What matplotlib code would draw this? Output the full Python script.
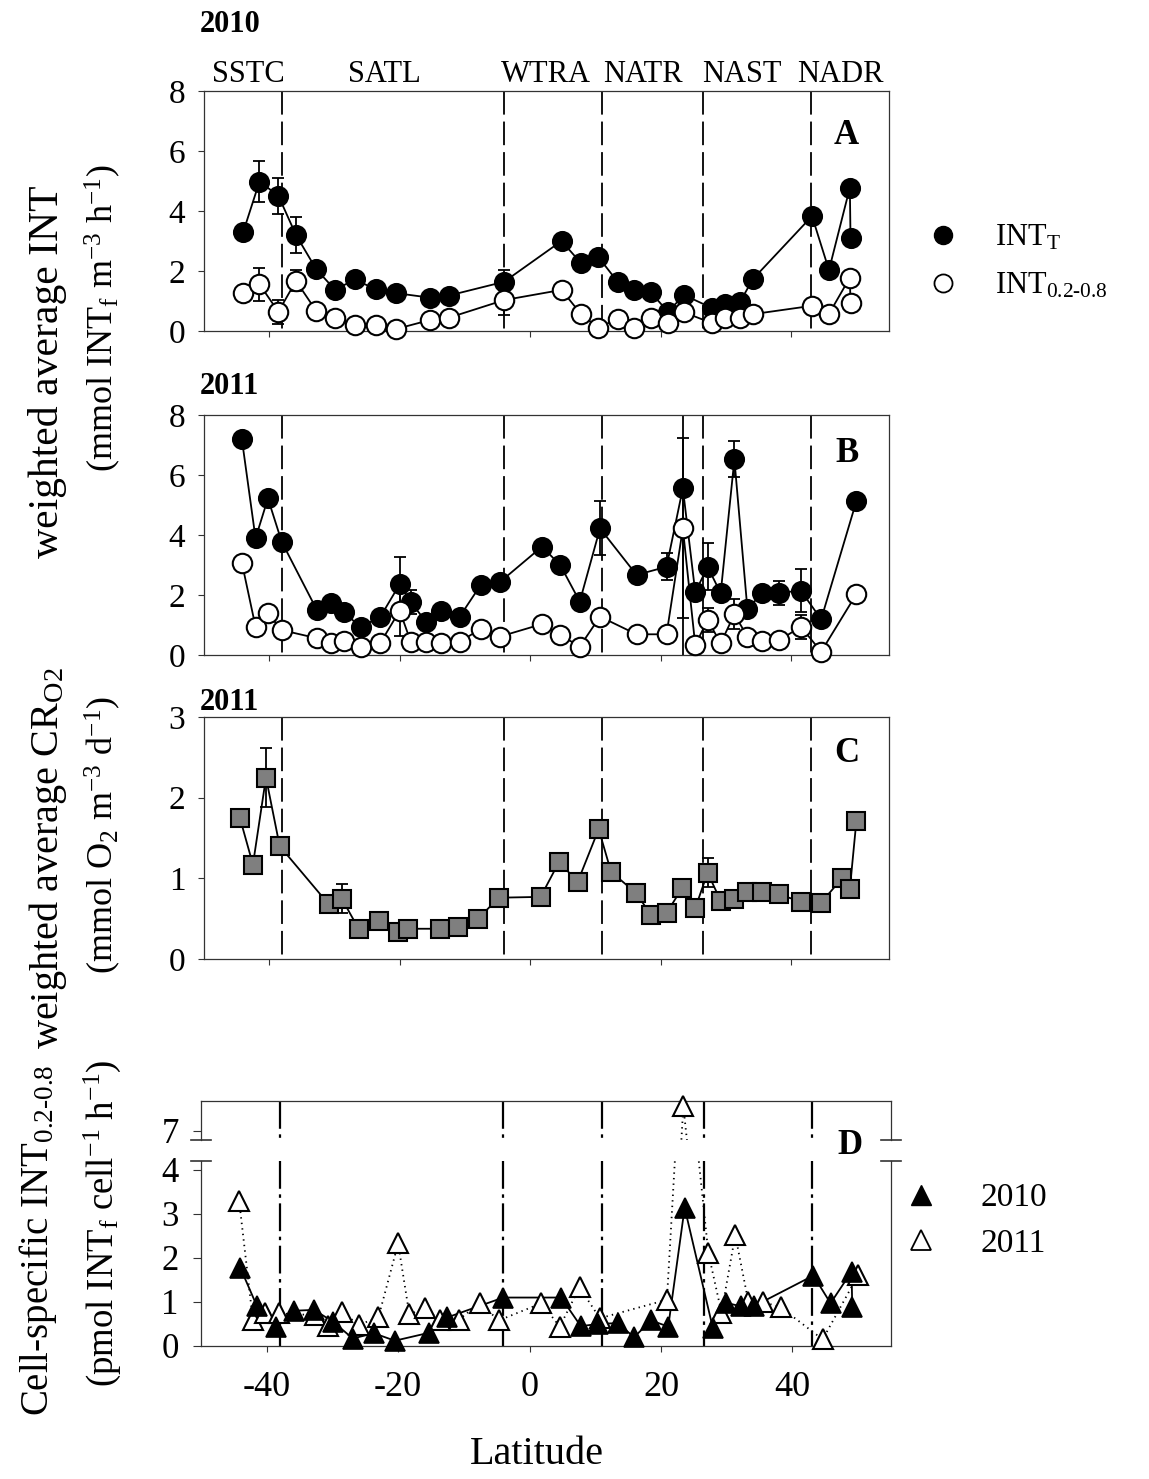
import matplotlib
matplotlib.use("Agg")
import matplotlib.pyplot as plt
from matplotlib.lines import Line2D
import numpy as np

plt.rcParams.update({
    "font.family": "Liberation Serif",
    "mathtext.fontset": "custom",
    "mathtext.rm": "Liberation Serif",
    "mathtext.it": "Liberation Serif:italic",
    "mathtext.bf": "Liberation Serif:bold",
    "lines.scale_dashes": False,
    "axes.unicode_minus": False,
    "axes.linewidth": 0.9,
    "axes.edgecolor": "#333333",
})

W, H, DPI = 1149, 1479, 100

# ---------------------------------------------------------------- data
# 2010 cruise (panels A, D filled)
LAT_10 = [-44.0, -41.5, -38.6, -35.9, -32.8, -29.9, -26.9, -23.7, -20.5, -15.3,
          -12.5, -4.0, 4.8, 7.8, 10.4, 13.4, 15.9, 18.5, 21.1, 23.6,
          27.9, 29.9, 32.2, 34.1, 43.2, 45.8, 49.0, 49.1]
INT_T_10 = [3.29, 4.98, 4.51, 3.2, 2.06, 1.37, 1.72, 1.39, 1.26, 1.11,
            1.18, 1.64, 3.0, 2.26, 2.48, 1.64, 1.37, 1.29, 0.64, 1.2,
            0.76, 0.9, 0.98, 1.72, 3.83, 2.03, 4.78, 3.11]
INT_T_10_ERR = [0, 0.69, 0.6, 0.6, 0, 0, 0, 0, 0, 0,
                0, 0.4, 0, 0, 0, 0, 0, 0, 0, 0,
                0, 0, 0, 0, 0, 0, 0.2, 0]
INT_S_10 = [1.28, 1.56, 0.64, 1.67, 0.67, 0.42, 0.2, 0.2, 0.07, 0.37,
            0.44, 1.03, 1.37, 0.56, 0.11, 0.4, 0.11, 0.42, 0.26, 0.62,
            0.26, 0.42, 0.42, 0.56, 0.84, 0.57, 1.78, 0.92]
INT_S_10_ERR = [0, 0.55, 0.4, 0.35, 0, 0, 0, 0, 0, 0,
                0, 0.5, 0, 0, 0, 0, 0, 0, 0, 0,
                0, 0, 0, 0, 0, 0, 0, 0]

# 2011 cruise (panel B)
LAT_11 = [-44.2, -42.1, -40.2, -38.1, -32.7, -30.6, -28.6, -26.0, -23.0, -20.0,
          -18.3, -15.9, -13.6, -10.8, -7.6, -4.7, 1.8, 4.6, 7.6, 10.7,
          16.3, 20.9, 23.4, 25.3, 27.2, 29.2, 31.3, 33.3, 35.5, 38.2,
          41.5, 44.6, 50.0]
INT_T_11 = [7.2, 3.89, 5.22, 3.78, 1.5, 1.72, 1.42, 0.94, 1.26, 2.36,
            1.76, 1.09, 1.48, 1.28, 2.33, 2.42, 3.61, 3.0, 1.78, 4.22,
            2.67, 2.94, 5.56, 2.09, 2.94, 2.06, 6.52, 1.52, 2.06, 2.08,
            2.14, 1.19, 5.13]
INT_T_11_ERR = [0, 0, 0, 0, 0, 0, 0, 0, 0, 0.9,
                0.4, 0, 0, 0, 0.15, 0, 0, 0, 0, 0.9,
                0, 0.45, 8.0, 0, 0.78, 0, 0.6, 0, 0, 0.4,
                0.72, 0, 0]
INT_S_11 = [3.08, 0.94, 1.39, 0.83, 0.56, 0.39, 0.47, 0.28, 0.39, 1.48,
            0.44, 0.44, 0.39, 0.44, 0.87, 0.61, 1.03, 0.67, 0.28, 1.28,
            0.69, 0.69, 4.22, 0.33, 1.17, 0.39, 1.36, 0.61, 0.48, 0.5,
            0.94, 0.11, 2.03]
INT_S_11_ERR = [0, 0, 0, 0, 0, 0, 0, 0, 0, 0.85,
                0, 0, 0, 0, 0, 0, 0, 0, 0, 0,
                0, 0, 3.0, 0, 0.4, 0, 0.5, 0, 0, 0,
                0.4, 0, 0]

# panel C, 2011 community respiration
LAT_CR = [-44.5, -42.5, -40.5, -38.4, -30.9, -28.9, -26.3, -23.2, -20.2, -18.7,
          -13.8, -11.0, -8.0, -4.8, 1.6, 4.4, 7.3, 10.5, 12.4, 16.2,
          18.5, 20.9, 23.3, 25.3, 27.2, 29.2, 31.3, 33.3, 35.5, 38.2,
          41.5, 44.5, 47.8, 49.0, 50.0]
CR_O2 = [1.75, 1.17, 2.25, 1.4, 0.68, 0.75, 0.375, 0.475, 0.33, 0.375,
         0.375, 0.4, 0.5, 0.76, 0.77, 1.2, 0.96, 1.61, 1.08, 0.82,
         0.55, 0.57, 0.88, 0.63, 1.07, 0.72, 0.75, 0.83, 0.83, 0.8,
         0.71, 0.69, 1.0, 0.87, 1.71]
CR_O2_ERR = [0.1, 0, 0.37, 0, 0, 0.18, 0, 0, 0, 0,
             0, 0, 0, 0, 0, 0, 0, 0, 0, 0,
             0, 0, 0, 0, 0.18, 0, 0, 0.05, 0, 0,
             0, 0, 0, 0, 0]

# panel D, cell-specific INT 0.2-0.8
CELL_LAT_10 = LAT_10
CELL_10 = [1.77, 0.91, 0.44, 0.8, 0.82, 0.55, 0.17, 0.29, 0.12, 0.3,
           0.65, 1.1, 1.1, 0.45, 0.5, 0.52, 0.2, 0.58, 0.44, 3.14,
           0.4, 0.98, 0.9, 0.9, 1.6, 0.97, 1.69, 0.89]
CELL_LAT_11 = [-44.2, -42.1, -40.2, -38.1, -32.7, -30.6, -28.6, -26.0, -23.0, -20.0,
               -18.3, -15.9, -13.6, -10.8, -7.6, -4.7, 1.8, 4.6, 7.6, 10.7,
               20.9, 23.4, 27.2, 29.2, 31.3, 33.3, 35.5, 38.2, 44.6, 50.0]
CELL_11 = [3.3, 0.58, 0.74, 0.74, 0.7, 0.46, 0.78, 0.48, 0.65, 2.33,
           0.72, 0.86, 0.58, 0.59, 0.98, 0.58, 0.97, 0.44, 1.33, 0.63,
           1.05, 7.57, 2.12, 0.76, 2.52, 1.0, 1.0, 0.88, 0.15, 1.61]

# province boundaries and names
BOUNDS = [-38.0, -4.0, 11.0, 26.5, 43.0]
PROVINCES = ["SSTC", "SATL", "WTRA", "NATR", "NAST", "NADR"]
PROV_X = [-43.2, -22.4, 2.4, 17.3, 32.4, 47.6]

XLIM = (-50, 55)
XTICKS = [-40, -20, 0, 20, 40]

fig = plt.figure(figsize=(W / DPI, H / DPI), dpi=DPI, facecolor="white")


def px_axes(left, top, right, bottom):
    return fig.add_axes([left / W, 1 - bottom / H, (right - left) / W, (bottom - top) / H])


def fx(x):
    return x / W


def fy(y):
    return 1 - y / H


def errbars(ax, x, y, e):
    x, y, e = np.asarray(x), np.asarray(y), np.asarray(e)
    m = e > 0
    ax.errorbar(x[m], y[m], yerr=e[m], fmt="none", ecolor="black",
                elinewidth=1.3, capsize=4, capthick=1.3, zorder=2)


def style(ax, ylim, yticks, labelsize=24):
    ax.set_xlim(*XLIM)
    ax.set_ylim(*ylim)
    ax.set_xticks(XTICKS)
    ax.set_yticks(yticks)
    ax.tick_params(direction="out", length=4.5, width=0.8, color="#333333",
                   labelsize=labelsize, pad=9)
    ax.tick_params(axis="x", labelbottom=False)


def bounds(ax, dashes=(17, 5), lw=1.3):
    for b in BOUNDS:
        ax.plot([b, b], [1, 0], transform=ax.get_xaxis_transform(),
                color="black", lw=lw, dashes=dashes, zorder=1)


# ---------------------------------------------------------------- panel A
ax_a = px_axes(204, 91, 889, 331)
style(ax_a, (0, 8), [0, 2, 4, 6, 8])
bounds(ax_a)
errbars(ax_a, LAT_10, INT_T_10, INT_T_10_ERR)
errbars(ax_a, LAT_10, INT_S_10, INT_S_10_ERR)
ax_a.plot(LAT_10, INT_T_10, "-o", color="black", lw=1.3, ms=14, mfc="black",
          mec="black", mew=1.2, clip_on=False, zorder=3)
ax_a.plot(LAT_10, INT_S_10, "-o", color="black", lw=1.3, ms=14, mfc="white",
          mec="black", mew=1.5, clip_on=False, zorder=4)
for name, xp in zip(PROVINCES, PROV_X):
    ax_a.text(xp, 1.07, name, transform=ax_a.get_xaxis_transform(),
              ha="center", va="center", fontsize=22)
ax_a.text(48.5, 6.5, "A", ha="center", va="center", fontsize=25, fontweight="bold")
fig.text(fx(200), fy(24), "2010", ha="left", va="center", fontsize=22, fontweight="bold")

leg_h = [Line2D([], [], ls="none", marker="o", ms=13, mfc="black", mec="black"),
         Line2D([], [], ls="none", marker="o", ms=13, mfc="white", mec="black", mew=1.3)]
fig.legend(leg_h, [r"INT$_\mathrm{T}$", r"INT$_\mathrm{0.2\text{-}0.8}$"],
           loc="center left", bbox_to_anchor=(fx(928), fy(262)), frameon=False,
           fontsize=22, handlelength=1.0, handletextpad=1.2, labelspacing=0.6,
           borderpad=0, borderaxespad=0)

# ---------------------------------------------------------------- panel B
ax_b = px_axes(204, 415, 889, 655)
style(ax_b, (0, 8), [0, 2, 4, 6, 8])
bounds(ax_b)
errbars(ax_b, LAT_11, INT_T_11, INT_T_11_ERR)
errbars(ax_b, LAT_11, INT_S_11, INT_S_11_ERR)
ax_b.plot(LAT_11, INT_T_11, "-o", color="black", lw=1.3, ms=14, mfc="black",
          mec="black", mew=1.2, clip_on=False, zorder=3)
ax_b.plot(LAT_11, INT_S_11, "-o", color="black", lw=1.3, ms=14, mfc="white",
          mec="black", mew=1.5, clip_on=False, zorder=4)
ax_b.text(48.5, 6.7, "B", ha="center", va="center", fontsize=25, fontweight="bold")
fig.text(fx(200), fy(386), "2011", ha="left", va="center", fontsize=22, fontweight="bold")

# ---------------------------------------------------------------- panel C
ax_c = px_axes(204, 717, 889, 959)
style(ax_c, (0, 3), [0, 1, 2, 3])
bounds(ax_c)
errbars(ax_c, LAT_CR, CR_O2, CR_O2_ERR)
ax_c.plot(LAT_CR, CR_O2, "-s", color="black", lw=1.3, ms=13, mfc="#7f7f7f",
          mec="black", mew=1.5, clip_on=False, zorder=3)
ax_c.text(48.5, 2.55, "C", ha="center", va="center", fontsize=25, fontweight="bold")
fig.text(fx(200), fy(703), "2011", ha="left", va="center", fontsize=22, fontweight="bold")

# ---------------------------------------------------------------- panel D (broken axis)
ax_dl = px_axes(201, 1161, 891, 1346)
ax_du = px_axes(201, 1101, 891, 1140)
for ax in (ax_dl, ax_du):
    ax.set_xlim(*XLIM)
    ax.tick_params(direction="out", length=6, width=0.8, color="#333333",
                   labelsize=25, pad=10)
    bounds(ax, dashes=(20, 4, 2.5, 4), lw=1.6)
    ax.plot(CELL_LAT_11, CELL_11, ls=(0, (1, 3)), color="black", lw=1.3, zorder=2)
    ax.plot(CELL_LAT_10, CELL_10, "-", color="black", lw=1.3, zorder=2)
ax_dl.set_ylim(0, 4.2)
ax_dl.set_yticks([0, 1, 2, 3, 4])
ax_dl.set_xticks(XTICKS)
ax_dl.tick_params(axis="x", labelsize=26, pad=14, length=4)
ax_dl.spines["top"].set_visible(False)
ax_du.set_ylim(6.79, 7.69)
ax_du.set_yticks([7])
ax_du.set_xticks([])
ax_du.spines["bottom"].set_visible(False)

c11 = np.asarray(CELL_11)
c10 = np.asarray(CELL_10)
l11 = np.asarray(CELL_LAT_11)
l10 = np.asarray(CELL_LAT_10)
lo = c11 <= 4.2
ax_dl.plot(l11[lo], c11[lo], ls="none", marker="^", ms=15, mfc="white", mec="black",
           mew=1.5, clip_on=False, zorder=3)
ax_du.plot(l11[~lo], c11[~lo], ls="none", marker="^", ms=15, mfc="white", mec="black",
           mew=1.5, clip_on=False, zorder=3)
ax_dl.plot(l10, c10, ls="none", marker="^", ms=15, mfc="black", mec="black",
           mew=1.2, clip_on=False, zorder=4)

# break marks
for yb in (1140, 1161):
    for xb in (201, 891):
        fig.add_artist(Line2D([fx(xb - 10), fx(xb + 10)], [fy(yb), fy(yb)],
                              transform=fig.transFigure, color="#333333", lw=1.2))
fig.text(fx(850), fy(1146), "D", ha="center", va="center", fontsize=25, fontweight="bold")

leg_d = [Line2D([], [], ls="none", marker="^", ms=14, mfc="black", mec="black"),
         Line2D([], [], ls="none", marker="^", ms=14, mfc="white", mec="black", mew=1.3)]
fig.legend(leg_d, ["2010", "2011"], loc="center left",
           bbox_to_anchor=(fx(904), fy(1221)), frameon=False, fontsize=24,
           handlelength=1.0, handletextpad=1.3, labelspacing=0.45,
           borderpad=0, borderaxespad=0)

# ---------------------------------------------------------------- axis titles
fig.text(fx(48), fy(372), "weighted average INT", rotation=90,
         ha="center", va="center", fontsize=30)
fig.text(fx(103), fy(318), r"(mmol INT$_\mathrm{f}$ m$^\mathrm{-3}$ h$^\mathrm{-1}$)",
         rotation=90, ha="center", va="center", fontsize=26)
fig.text(fx(48), fy(858), r"weighted average CR$_\mathrm{O2}$", rotation=90,
         ha="center", va="center", fontsize=29)
fig.text(fx(103), fy(835), r"(mmol O$_\mathrm{2}$ m$^\mathrm{-3}$ d$^\mathrm{-1}$)",
         rotation=90, ha="center", va="center", fontsize=26)
fig.text(fx(38), fy(1240), r"Cell-specific INT$_\mathrm{0.2\text{-}0.8}$", rotation=90,
         ha="center", va="center", fontsize=28)
fig.text(fx(102), fy(1223), r"(pmol INT$_\mathrm{f}$ cell$^\mathrm{-1}$ h$^\mathrm{-1}$)",
         rotation=90, ha="center", va="center", fontsize=26.5)
fig.text(fx(537), fy(1455), "Latitude", ha="center", va="center", fontsize=29)

fig.savefig("out.png", dpi=DPI, facecolor="white")
